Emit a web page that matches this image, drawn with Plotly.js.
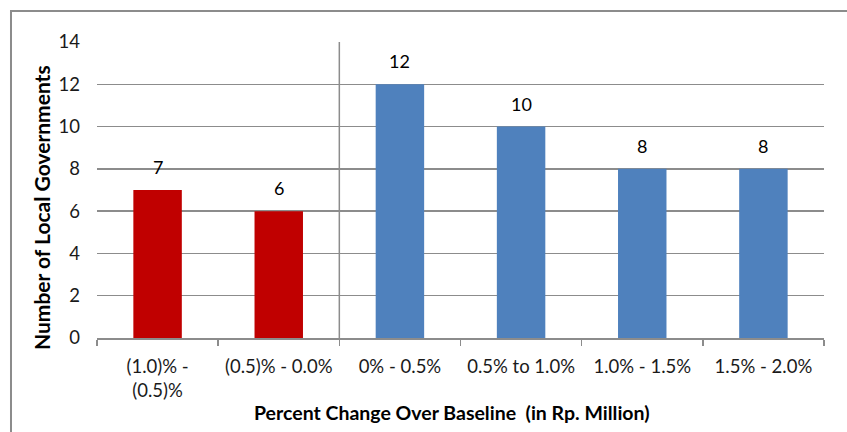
<!DOCTYPE html>
<html>
<head>
<meta charset="utf-8">
<script src="https://cdn.plot.ly/plotly-3.0.1.min.js"></script>
<style>html,body{margin:0;padding:0;background:#fff;}#chart{width:847px;height:432px;}</style>
</head>
<body>
<div id="chart"></div>
<script>
var categories = ["(1.0)% -<br>(0.5)%", "(0.5)% - 0.0%", "0% - 0.5%", "0.5% to 1.0%", "1.0% - 1.5%", "1.5% - 2.0%"];
var values = [7, 6, 12, 10, 8, 8];
var barColors = ["#C00000", "#C00000", "#4F81BD", "#4F81BD", "#4F81BD", "#4F81BD"];
var yTicks = [0, 2, 4, 6, 8, 10, 12, 14];
var xTitle = "Percent Change Over Baseline  (in Rp. Million)";
var yTitle = "Number of Local Governments";

var font = "Lato, 'Open Sans', 'Liberation Sans', sans-serif";

var trace = {
  type: "bar",
  x: categories,
  y: values,
  marker: {color: barColors},
  width: 0.4,
  hoverinfo: "none"
};

var labelAnnotations = categories.map(function (c, i) {
  return {x: c, y: values[i], xref: "x", yref: "y", text: String(values[i]),
          showarrow: false, xanchor: "center", yanchor: "bottom", yshift: 10,
          font: {family: font, size: 18, color: "#000"}};
});

var layout = {
  width: 847, height: 432,
  margin: {l: 97, r: 23, t: 42, b: 94},
  paper_bgcolor: "#fff", plot_bgcolor: "#fff",
  showlegend: false,
  font: {family: font, size: 18, color: "#000"},
  xaxis: {
    type: "category",
    tickson: "boundaries",
    ticks: "outside", ticklen: 6, tickcolor: "#8c8c8c", tickwidth: 1.5,
    showline: true, linecolor: "#8c8c8c", linewidth: 1.5,
    showgrid: false,
    tickfont: {family: font, size: 18.5, color: "#1a1a1a"},
    ticklabelstandoff: 11,
    range: [-0.5, 5.5],
    fixedrange: true
  },
  yaxis: {
    range: [0, 14],
    tickvals: yTicks,
    showgrid: true, gridcolor: "#8c8c8c", gridwidth: 1.5,
    zeroline: false, showline: false, ticks: "",
    tickfont: {family: font, size: 18.5, color: "#1a1a1a"},
    ticklabelstandoff: 16,
    fixedrange: true
  },
  shapes: [
    {type: "line", xref: "x", yref: "y", x0: 1.5, x1: 1.5, y0: 0, y1: 14,
     line: {color: "#8c8c8c", width: 1.5}},
    {type: "rect", xref: "paper", yref: "paper", x0: -0.1183, x1: 1.2, y0: -0.5, y1: 1.1047,
     line: {color: "#8c8c8c", width: 2}, fillcolor: "rgba(0,0,0,0)", layer: "below"}
  ],
  annotations: labelAnnotations.concat([
    {text: "<b>" + xTitle + "</b>", xref: "paper", yref: "paper",
     x: (452 - 97) / 727, y: (338 - 412) / 296, xanchor: "center", yanchor: "middle",
     showarrow: false, font: {family: font, size: 19.5, color: "#000"}},
    {text: "<b>" + yTitle + "</b>", xref: "paper", yref: "paper", textangle: -90,
     x: (42 - 97) / 727, y: (338 - 208) / 296, xanchor: "center", yanchor: "middle",
     showarrow: false, font: {family: font, size: 21, color: "#000"}}
  ])
};

Plotly.newPlot("chart", [trace], layout, {staticPlot: true, displayModeBar: false});
</script>
</body>
</html>
